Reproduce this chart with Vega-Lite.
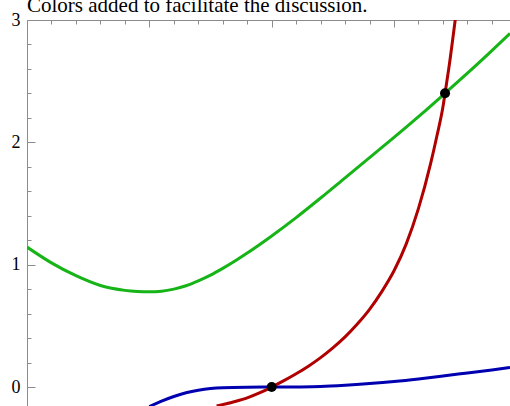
{
  "$schema": "https://vega.github.io/schema/vega-lite/v6.json",
  "width": 483,
  "height": 386,
  "autosize": "none",
  "padding": {"left": 27, "top": 20, "right": 0, "bottom": 0},
  "title": {
    "text": "Colors added to facilitate the discussion.",
    "anchor": "start",
    "frame": "group",
    "font": "Liberation Serif",
    "fontSize": 21,
    "fontWeight": "normal",
    "color": "#000000",
    "baseline": "alphabetic",
    "offset": -22
  },
  "config": {"view": {"stroke": null}, "axis": {"labelOverlap": false, "grid": false, "title": null, "domainColor": "#8c8c8c", "tickColor": "#8c8c8c", "domainWidth": 1, "tickWidth": 1}},
  "resolve": {"axis": {"x": "independent", "y": "independent"}},
  "datasets": {
    "curves": [
      {"series": "blue", "x": 1.0, "y": -0.16},
      {"series": "blue", "x": 1.1, "y": -0.115},
      {"series": "blue", "x": 1.2, "y": -0.077},
      {"series": "blue", "x": 1.3, "y": -0.047},
      {"series": "blue", "x": 1.4, "y": -0.026},
      {"series": "blue", "x": 1.5, "y": -0.012},
      {"series": "blue", "x": 1.6, "y": -0.005},
      {"series": "blue", "x": 1.8, "y": -0.001},
      {"series": "blue", "x": 2.0, "y": 0.0},
      {"series": "blue", "x": 2.2, "y": 0.001},
      {"series": "blue", "x": 2.4, "y": 0.004},
      {"series": "blue", "x": 2.6, "y": 0.014},
      {"series": "blue", "x": 2.8, "y": 0.028},
      {"series": "blue", "x": 3.0, "y": 0.045},
      {"series": "blue", "x": 3.2, "y": 0.066},
      {"series": "blue", "x": 3.4, "y": 0.09},
      {"series": "blue", "x": 3.6, "y": 0.115},
      {"series": "blue", "x": 3.8, "y": 0.14},
      {"series": "blue", "x": 3.948, "y": 0.16},
      {"series": "green", "x": 0.0, "y": 1.144},
      {"series": "green", "x": 0.2, "y": 1.015},
      {"series": "green", "x": 0.4, "y": 0.91},
      {"series": "green", "x": 0.6, "y": 0.83},
      {"series": "green", "x": 0.8, "y": 0.79},
      {"series": "green", "x": 0.9, "y": 0.781},
      {"series": "green", "x": 1.0, "y": 0.778},
      {"series": "green", "x": 1.1, "y": 0.783},
      {"series": "green", "x": 1.2, "y": 0.8},
      {"series": "green", "x": 1.3, "y": 0.828},
      {"series": "green", "x": 1.4, "y": 0.868},
      {"series": "green", "x": 1.5, "y": 0.915},
      {"series": "green", "x": 1.6, "y": 0.97},
      {"series": "green", "x": 1.7, "y": 1.03},
      {"series": "green", "x": 1.8, "y": 1.095},
      {"series": "green", "x": 2.0, "y": 1.235},
      {"series": "green", "x": 2.2, "y": 1.385},
      {"series": "green", "x": 2.4, "y": 1.545},
      {"series": "green", "x": 2.6, "y": 1.71},
      {"series": "green", "x": 2.8, "y": 1.875},
      {"series": "green", "x": 3.0, "y": 2.04},
      {"series": "green", "x": 3.2, "y": 2.21},
      {"series": "green", "x": 3.417, "y": 2.401},
      {"series": "green", "x": 3.6, "y": 2.565},
      {"series": "green", "x": 3.8, "y": 2.75},
      {"series": "green", "x": 3.948, "y": 2.89},
      {"series": "red", "x": 1.55, "y": -0.155},
      {"series": "red", "x": 1.7, "y": -0.118},
      {"series": "red", "x": 1.8, "y": -0.088},
      {"series": "red", "x": 1.9, "y": -0.048},
      {"series": "red", "x": 2.0, "y": 0.0},
      {"series": "red", "x": 2.1, "y": 0.052},
      {"series": "red", "x": 2.2, "y": 0.108},
      {"series": "red", "x": 2.3, "y": 0.17},
      {"series": "red", "x": 2.4, "y": 0.24},
      {"series": "red", "x": 2.5, "y": 0.32},
      {"series": "red", "x": 2.6, "y": 0.41},
      {"series": "red", "x": 2.7, "y": 0.515},
      {"series": "red", "x": 2.8, "y": 0.635},
      {"series": "red", "x": 2.9, "y": 0.78},
      {"series": "red", "x": 3.0, "y": 0.95},
      {"series": "red", "x": 3.1, "y": 1.17},
      {"series": "red", "x": 3.2, "y": 1.46},
      {"series": "red", "x": 3.3, "y": 1.83},
      {"series": "red", "x": 3.35, "y": 2.05},
      {"series": "red", "x": 3.4, "y": 2.29},
      {"series": "red", "x": 3.417, "y": 2.401},
      {"series": "red", "x": 3.45, "y": 2.62},
      {"series": "red", "x": 3.5, "y": 3.0},
      {"series": "red", "x": 3.52, "y": 3.16}
    ],
    "dots": [
      {"x": 2.0, "y": 0.0},
      {"x": 3.417, "y": 2.401}
    ]
  },
  "layer": [
    {
      "data": {"name": "curves"},
      "mark": {"type": "line", "interpolate": "monotone", "strokeWidth": 3, "clip": true},
      "encoding": {
        "x": {
          "field": "x",
          "type": "quantitative",
          "scale": {"domain": [0, 3.948], "nice": false, "zero": false},
          "axis": {
            "orient": "top",
            "labels": false,
            "values": [0, 1, 2, 3],
            "tickSize": -7
          }
        },
        "y": {
          "field": "y",
          "type": "quantitative",
          "scale": {"domain": [-0.155, 3], "nice": false, "zero": false},
          "axis": {
            "orient": "left",
            "values": [0, 1, 2, 3],
            "format": "d",
            "tickSize": -8,
            "labelPadding": 15,
            "labelFont": "Liberation Serif",
            "labelFontSize": 18,
            "labelColor": "#000000",
            "labelFlush": false,
            "labelBound": false
          }
        },
        "color": {
          "field": "series",
          "type": "nominal",
          "scale": {"domain": ["blue", "green", "red"], "range": ["#0000b0", "#16b416", "#b00000"]},
          "legend": null
        }
      }
    },
    {
      "data": {"name": "dots"},
      "mark": {"type": "point", "filled": true, "shape": "circle", "size": 100, "color": "#000000", "opacity": 1},
      "encoding": {
        "x": {
          "field": "x",
          "type": "quantitative",
          "axis": {
            "orient": "top",
            "labels": false,
            "domain": false,
            "values": [0.2, 0.4, 0.6, 0.8, 1.2, 1.4, 1.6, 1.8, 2.2, 2.4, 2.6, 2.8, 3.2, 3.4, 3.6, 3.8],
            "tickSize": -4
          }
        },
        "y": {
          "field": "y",
          "type": "quantitative",
          "axis": {
            "orient": "left",
            "labels": false,
            "domain": false,
            "values": [0.2, 0.4, 0.6, 0.8, 1.2, 1.4, 1.6, 1.8, 2.2, 2.4, 2.6, 2.8],
            "tickSize": -4
          }
        }
      }
    }
  ]
}
